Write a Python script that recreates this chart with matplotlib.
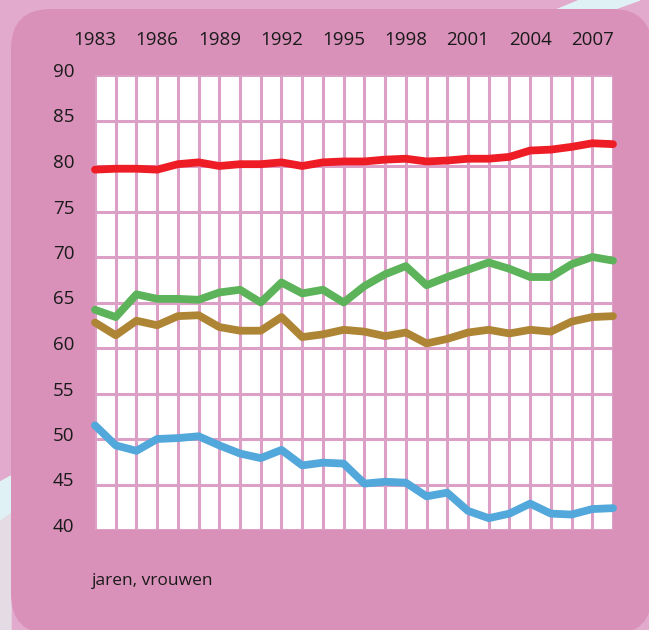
import matplotlib
matplotlib.use("Agg")
import matplotlib.pyplot as plt
import matplotlib.transforms as mtransforms
from matplotlib.patches import FancyBboxPatch, Polygon

plt.rcParams["font.family"] = ["Open Sans", "DejaVu Sans"]

# data (women, per year)
years = list(range(1983, 2009))
label_years = list(range(1983, 2008, 3))
y_ticks = [40, 45, 50, 55, 60, 65, 70, 75, 80, 85, 90]

red = [79.6, 79.7, 79.7, 79.6, 80.2, 80.4, 80.0, 80.2, 80.2, 80.4, 80.0, 80.4, 80.5,
       80.5, 80.7, 80.8, 80.5, 80.6, 80.8, 80.8, 81.0, 81.7, 81.8, 82.1, 82.5, 82.4]
green = [64.2, 63.4, 65.9, 65.4, 65.4, 65.3, 66.1, 66.4, 65.0, 67.2, 66.0, 66.4, 65.0,
         66.8, 68.1, 69.0, 66.9, 67.8, 68.6, 69.4, 68.7, 67.8, 67.8, 69.2, 70.0, 69.6]
brown = [62.8, 61.4, 63.0, 62.5, 63.5, 63.6, 62.3, 61.9, 61.9, 63.4, 61.2, 61.5, 62.0,
         61.8, 61.3, 61.7, 60.5, 61.0, 61.7, 62.0, 61.6, 62.0, 61.8, 62.9, 63.4, 63.5]
blue = [51.5, 49.3, 48.7, 50.0, 50.1, 50.3, 49.3, 48.4, 47.9, 48.8, 47.1, 47.4, 47.3,
        45.1, 45.3, 45.2, 43.7, 44.1, 42.1, 41.3, 41.8, 42.9, 41.8, 41.7, 42.3, 42.4]

series = [(red, "#ee1c25"), (green, "#5cb35a"), (brown, "#ae8535"), (blue, "#52a7db")]

W, H = 649, 630
fig = plt.figure(figsize=(W / 100, H / 100), dpi=100, facecolor="#e2aacc")
px = fig.dpi_scale_trans  # inches; 1 inch = 100 px

# background decoration (cyan stripes, pale lower-left)
def pts(lst):
    return [(x / 100, (H - y) / 100) for x, y in lst]

fig.patches.append(Polygon(pts([(0, 520), (11, 512), (11, 630), (0, 630)]),
                           closed=True, transform=px, color="#e4dbe5", zorder=-3))
fig.patches.append(Polygon(pts([(0, 482), (11, 476), (11, 512), (0, 520)]),
                           closed=True, transform=px, color="#dff1f4", zorder=-3))
fig.patches.append(Polygon(pts([(556, 10), (612, 10), (640, 0), (580, 0)]),
                           closed=True, transform=px, color="#dff1f4", zorder=-3))

# main rounded pink panel
box = FancyBboxPatch((11 / 100, -4 / 100), 641 / 100, 625 / 100,
                     boxstyle="round,pad=0,rounding_size=0.4",
                     transform=px, facecolor="#d991b9", edgecolor="none", zorder=-2)
fig.patches.append(box)

ax = fig.add_axes([95 / W, 1 - 530 / H, 518 / W, 455 / H])
ax.set_facecolor("white")
ax.set_xlim(1983, 2008)
ax.set_ylim(40, 90)
for s in ax.spines.values():
    s.set_visible(False)

ax.set_xticks(label_years)
ax.set_xticks(years, minor=True)
ax.set_yticks(y_ticks)
ax.grid(True, which="both", axis="x", color="#dc9fc6", linewidth=2.2, zorder=1)
ax.grid(True, which="major", axis="y", color="#dc9fc6", linewidth=2.2, zorder=1)
ax.set_axisbelow(True)

ax.xaxis.tick_top()
ax.tick_params(axis="both", which="both", length=0, labelsize=13.5, labelcolor="#1a1a1a")
ax.tick_params(axis="x", pad=19)
ax.tick_params(axis="y", pad=15)

offset = mtransforms.ScaledTranslation(0, 5 / 100, fig.dpi_scale_trans)
for lbl in ax.get_yticklabels():
    lbl.set_transform(lbl.get_transform() + offset)

for vals, col in series:
    ax.plot(years, vals, color=col, linewidth=5.6, solid_capstyle="round",
            solid_joinstyle="round", clip_on=False, zorder=3)

fig.text(92 / W, 1 - 581 / H, "jaren, vrouwen", fontsize=12.5, color="#1a1a1a",
         va="center", ha="left")

fig.savefig("out.png", dpi=100, facecolor=fig.get_facecolor())
